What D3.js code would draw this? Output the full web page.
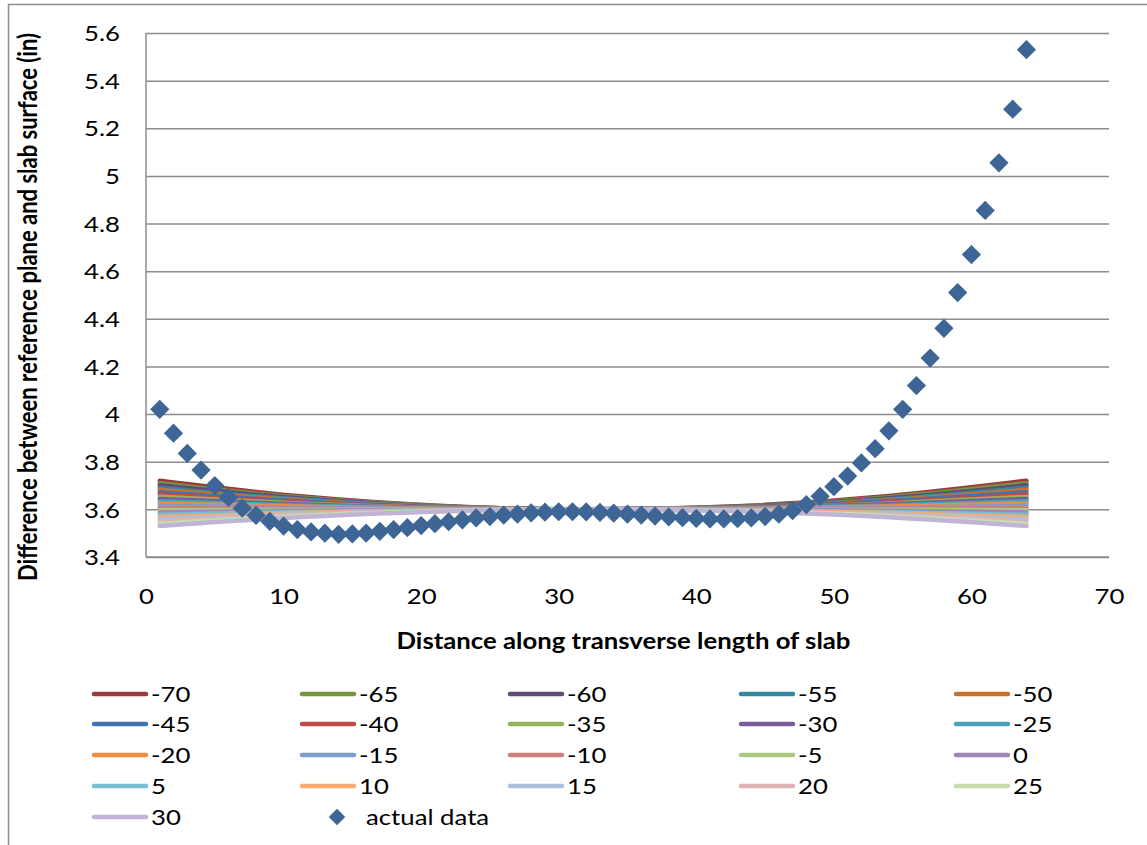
<!DOCTYPE html>
<html>
<head>
<meta charset="utf-8">
<script src="https://cdn.jsdelivr.net/npm/d3@7"></script>
<style>
  html, body { margin: 0; padding: 0; background: #fff; }
  svg text { font-family: Lato, "Open Sans", sans-serif; fill: #000; }
</style>
</head>
<body>
<svg id="chart" width="1147" height="845"></svg>
<script>
// Temperature-gradient profiles (one curve per gradient value)
const gradientLabels = ["-70","-65","-60","-55","-50","-45","-40","-35","-30","-25","-20","-15","-10","-5","0","5","10","15","20","25","30"];
const gradientColors = ["#9B3B37","#77953D","#604A7B","#35879E","#C8722E","#4272B4","#BE4B48","#93B558","#7A5C98","#45A3BD","#EE8C3F","#7C9ECD","#D07E7C","#ABC87F","#9E87BA","#78BFD2","#F9A870","#ADC0DE","#DDB4B3","#C9DCB0","#BFB4D4"];
const profileX = [1, 11, 22, 32, 43, 54, 64];
const profileValues = [
  [3.720, 3.656, 3.613, 3.600, 3.613, 3.656, 3.720],
  [3.710, 3.651, 3.612, 3.600, 3.612, 3.651, 3.710],
  [3.701, 3.647, 3.611, 3.600, 3.611, 3.647, 3.701],
  [3.691, 3.642, 3.610, 3.600, 3.610, 3.642, 3.691],
  [3.682, 3.638, 3.609, 3.600, 3.609, 3.638, 3.682],
  [3.672, 3.634, 3.608, 3.600, 3.608, 3.634, 3.672],
  [3.663, 3.629, 3.607, 3.600, 3.607, 3.629, 3.663],
  [3.653, 3.625, 3.606, 3.600, 3.606, 3.625, 3.653],
  [3.644, 3.621, 3.605, 3.600, 3.605, 3.621, 3.644],
  [3.634, 3.616, 3.604, 3.600, 3.604, 3.616, 3.634],
  [3.625, 3.612, 3.603, 3.600, 3.603, 3.612, 3.625],
  [3.615, 3.607, 3.602, 3.600, 3.602, 3.607, 3.615],
  [3.606, 3.603, 3.601, 3.600, 3.601, 3.603, 3.606],
  [3.596, 3.598, 3.600, 3.600, 3.600, 3.598, 3.596],
  [3.587, 3.594, 3.599, 3.600, 3.599, 3.594, 3.587],
  [3.577, 3.589, 3.597, 3.600, 3.597, 3.589, 3.577],
  [3.568, 3.585, 3.596, 3.600, 3.596, 3.585, 3.568],
  [3.558, 3.580, 3.595, 3.600, 3.595, 3.580, 3.558],
  [3.549, 3.576, 3.594, 3.600, 3.594, 3.576, 3.549],
  [3.539, 3.572, 3.593, 3.600, 3.593, 3.572, 3.539],
  [3.530, 3.567, 3.592, 3.600, 3.592, 3.567, 3.530]
];

// Measured surface (actual data), x = 1..64
const actualX = d3.range(1, 65);
const actualY = [
  4.02, 3.92, 3.835, 3.765, 3.70, 3.65, 3.605, 3.575, 3.55, 3.53,
  3.515, 3.505, 3.50, 3.495, 3.497, 3.50, 3.508, 3.515, 3.523, 3.532,
  3.54, 3.548, 3.556, 3.564, 3.57, 3.576, 3.58, 3.585, 3.588, 3.59,
  3.59, 3.589, 3.587, 3.584, 3.58, 3.576, 3.572, 3.568, 3.565, 3.562,
  3.56, 3.56, 3.561, 3.564, 3.57, 3.58, 3.595, 3.62, 3.655, 3.695,
  3.74, 3.795, 3.855, 3.93, 4.02, 4.12, 4.235, 4.36, 4.51, 4.67,
  4.855, 5.055, 5.28, 5.53
];

const xTicks = [0, 10, 20, 30, 40, 50, 60, 70];
const yTicks = [3.4, 3.6, 3.8, 4, 4.2, 4.4, 4.6, 4.8, 5, 5.2, 5.4, 5.6];

const markerColor = "#3D6595";
const gridColor = "#8C8C8C";
const fontSize = 22;
const widen = 1.17;   // horizontal widening of the lettering

const svg = d3.select("#chart");

// widen a text selection horizontally around its own anchor x
function widenText(sel) {
  sel.each(function () {
    const t = d3.select(this);
    const x0 = +t.attr("x") || 0;
    t.attr("x", 0).attr("transform", `translate(${x0},0) scale(${widen},1)`);
  });
}

// outer chart frame
svg.append("rect")
  .attr("x", 8.5).attr("y", 4.5)
  .attr("width", 1160).attr("height", 860)
  .attr("fill", "#fff").attr("stroke", "#8C8C8C").attr("stroke-width", 1.5);

const plot = { left: 146, right: 1109, top: 33, bottom: 557 };
const x = d3.scaleLinear().domain([0, 70]).range([plot.left, plot.right]);
const y = d3.scaleLinear().domain([3.4, 5.6]).range([plot.bottom, plot.top]);

// horizontal gridlines + y labels
const yAxis = d3.axisLeft(y).tickValues(yTicks).tickSize(-(plot.right - plot.left))
  .tickFormat(d => d3.format("~g")(d)).tickPadding(26);
const gy = svg.append("g").attr("transform", `translate(${plot.left},0)`).call(yAxis);
gy.select(".domain").remove();
gy.selectAll(".tick line").attr("stroke", gridColor).attr("stroke-width", 1.5);
gy.selectAll(".tick text").attr("font-size", fontSize).attr("dy", "0.35em").call(widenText);

// x axis labels
const xAxis = d3.axisBottom(x).tickValues(xTicks).tickSize(0).tickPadding(31);
const gx = svg.append("g").attr("transform", `translate(0,${plot.bottom})`).call(xAxis);
gx.select(".domain").remove();
gx.selectAll(".tick text").attr("font-size", fontSize).call(widenText);

// axis lines
svg.append("line").attr("x1", plot.left).attr("x2", plot.left)
  .attr("y1", plot.top).attr("y2", plot.bottom)
  .attr("stroke", gridColor).attr("stroke-width", 1.5);
svg.append("line").attr("x1", plot.left).attr("x2", plot.right)
  .attr("y1", plot.bottom).attr("y2", plot.bottom)
  .attr("stroke", gridColor).attr("stroke-width", 1.5);

// profile curves
const line = d3.line().x((d, i) => x(profileX[i])).y(d => y(d)).curve(d3.curveNatural);
svg.append("g").selectAll("path").data(profileValues).join("path")
  .attr("d", line)
  .attr("fill", "none")
  .attr("stroke", (d, i) => gradientColors[i])
  .attr("stroke-width", 4.5)
  .attr("stroke-linecap", "round")
  .attr("stroke-linejoin", "round");

// actual data markers
const diamond = d3.symbol().type(d3.symbolSquare).size(185);
svg.append("g").selectAll("path").data(actualY).join("path")
  .attr("d", diamond)
  .attr("transform", (d, i) => `translate(${x(actualX[i])},${y(d)}) rotate(45)`)
  .attr("fill", markerColor);

// axis titles
svg.append("text")
  .attr("transform", `translate(${(plot.left + plot.right) / 2 - 4},649) scale(${widen},1)`)
  .attr("text-anchor", "middle").attr("font-size", fontSize).attr("font-weight", "bold")
  .text("Distance along transverse length of slab");
svg.append("text")
  .attr("transform", `translate(37,${(plot.top + plot.bottom) / 2 + 12}) rotate(-90) scale(1,${widen})`)
  .attr("text-anchor", "middle").attr("font-size", fontSize).attr("font-weight", "bold")
  .text("Difference between reference plane and slab surface (in)");

// legend
const legendItems = gradientLabels.map((l, i) => ({ label: l, color: gradientColors[i], type: "line" }));
legendItems.push({ label: "actual data", color: markerColor, type: "marker" });
const colX = [94, 302, 510, 741, 956];
const rowY = [694, 724, 755, 786, 817];
const lg = svg.append("g").selectAll("g").data(legendItems).join("g")
  .attr("transform", (d, i) => `translate(${colX[i % 5]},${rowY[Math.floor(i / 5)]})`);
lg.filter(d => d.type === "line").append("line")
  .attr("x1", 0).attr("x2", 52).attr("y1", 0).attr("y2", 0)
  .attr("stroke", d => d.color).attr("stroke-width", 4.5).attr("stroke-linecap", "round");
lg.filter(d => d.type === "marker").append("path")
  .attr("d", d3.symbol().type(d3.symbolSquare).size(135))
  .attr("transform", "translate(35,0) rotate(45)")
  .attr("fill", d => d.color);
lg.append("text")
  .attr("x", d => d.type === "line" ? 57 : 64).attr("y", 0).attr("dy", "0.35em")
  .attr("font-size", fontSize)
  .text(d => d.label)
  .call(widenText);
</script>
</body>
</html>
